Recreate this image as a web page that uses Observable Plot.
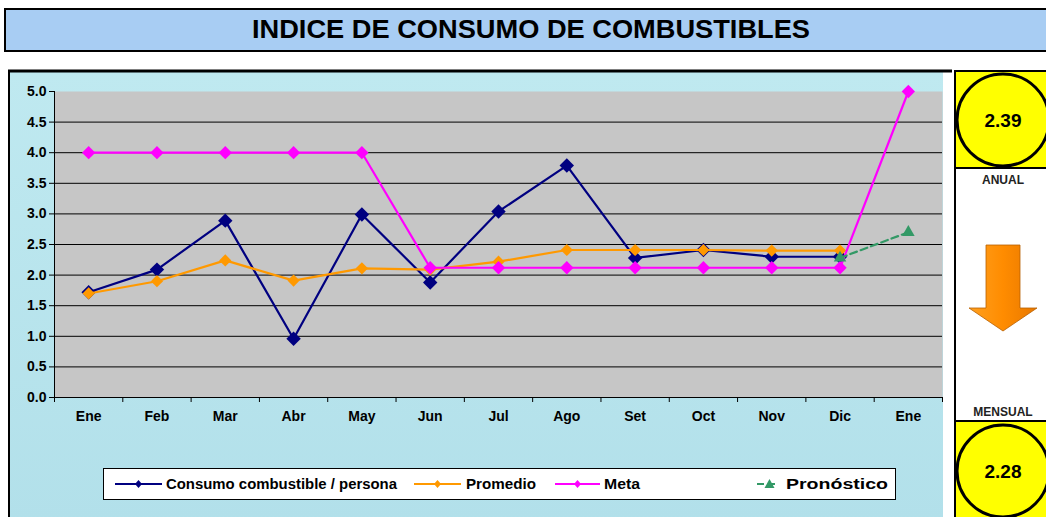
<!DOCTYPE html>
<html>
<head>
<meta charset="utf-8">
<script src="https://cdn.jsdelivr.net/npm/d3@7"></script>
<script src="https://cdn.jsdelivr.net/npm/@observablehq/plot@0.6"></script>
<style>
  html, body { margin: 0; padding: 0; background: #ffffff; }
  #page { position: relative; width: 1046px; height: 517px; overflow: hidden; background: #ffffff; font-family: "Liberation Sans", Arial, sans-serif; }
  #deco, #overlay { position: absolute; left: 0; top: 0; }
  #chart { position: absolute; left: 8px; top: 70px; }
</style>
</head>
<body>
<div id="page">
  <svg id="deco" width="1046" height="517"></svg>
  <div id="chart"></div>
  <svg id="overlay" width="1046" height="517"></svg>
</div>
<script>
// ---------- data ----------
const months = ["Ene","Feb","Mar","Abr","May","Jun","Jul","Ago","Set","Oct","Nov","Dic","Ene"];
const consumo = [1.72, 2.09, 2.89, 0.96, 2.99, 1.88, 3.04, 3.79, 2.28, 2.41, 2.30, 2.30, null];
const promedio = [1.70, 1.90, 2.24, 1.91, 2.11, 2.09, 2.22, 2.41, 2.41, 2.41, 2.40, 2.40, null];
const meta = [4.0, 4.0, 4.0, 4.0, 4.0, 2.12, 2.12, 2.12, 2.12, 2.12, 2.12, 2.12, 5.0];
const pronostico = [null, null, null, null, null, null, null, null, null, null, null, 2.28, 2.70];
const yTicks = [0.0, 0.5, 1.0, 1.5, 2.0, 2.5, 3.0, 3.5, 4.0, 4.5, 5.0];
const seriesNames = ["Consumo combustible / persona", "Promedio", "Meta", "Pronóstico"];
const seriesColors = ["#000080", "#ff9900", "#ff00ff", "#339966"];
const title = "INDICE DE CONSUMO DE COMBUSTIBLES";
const anualValue = "2.39";
const mensualValue = "2.28";
const anualLabel = "ANUAL";
const mensualLabel = "MENSUAL";

const toRows = arr => arr.map((v, i) => ({i, v})).filter(d => d.v != null);
const rowsC = toRows(consumo), rowsP = toRows(promedio), rowsM = toRows(meta), rowsF = toRows(pronostico);
const idx = months.map((_, i) => i);
const bounds = months.map((_, i) => i - 0.5).concat([months.length - 0.5]);

// ---------- plot ----------
const chart = Plot.plot({
  width: 935,
  height: 447,
  marginLeft: 46,
  marginRight: 1,
  marginTop: 21,
  marginBottom: 120,
  style: {background: "transparent", fontFamily: "'Liberation Sans', Arial, sans-serif", fontSize: "14px", fontWeight: "bold", color: "#000"},
  x: {type: "linear", domain: [-0.5, months.length - 0.5]},
  y: {domain: [0, 5]},
  marks: [
    Plot.frame({fill: "#c6c6c6", stroke: "none"}),
    Plot.ruleY(yTicks.filter(d => d > 0 && d < 5), {stroke: "#000", strokeWidth: 1}),
    Plot.ruleY([0], {stroke: "#000", strokeWidth: 1}),
    Plot.ruleX([-0.5], {stroke: "#000", strokeWidth: 1}),
    Plot.axisY({ticks: yTicks, tickFormat: d => d.toFixed(1), tickSize: 5, tickPadding: 3, label: null, fontWeight: "bold", fontSize: 14}),
    Plot.axisX({ticks: bounds, tickFormat: () => "", tickSize: 5, label: null}),
    Plot.axisX({ticks: idx, tickFormat: i => months[i], tickSize: 0, tickPadding: 14, label: null, fontWeight: "bold", fontSize: 14}),
    Plot.line(rowsC, {x: "i", y: "v", stroke: seriesColors[0], strokeWidth: 2.2}),
    Plot.dot(rowsC, {x: "i", y: "v", symbol: "diamond2", fill: seriesColors[0], r: 6.5}),
    Plot.line(rowsP, {x: "i", y: "v", stroke: seriesColors[1], strokeWidth: 2.2}),
    Plot.dot(rowsP, {x: "i", y: "v", symbol: "diamond2", fill: seriesColors[1], r: 5.5}),
    Plot.line(rowsM, {x: "i", y: "v", stroke: seriesColors[2], strokeWidth: 2.2}),
    Plot.dot(rowsM, {x: "i", y: "v", symbol: "diamond2", fill: seriesColors[2], r: 6}),
    Plot.line(rowsF, {x: "i", y: "v", stroke: seriesColors[3], strokeWidth: 2.2, strokeDasharray: "7,4"}),
    Plot.dot(rowsF, {x: "i", y: "v", symbol: "triangle2", fill: seriesColors[3], r: 6})
  ]
});
document.getElementById("chart").appendChild(chart);

// ---------- decorations ----------
const NS = "http://www.w3.org/2000/svg";
function el(parent, tag, attrs, text) {
  const e = document.createElementNS(NS, tag);
  for (const k in attrs) e.setAttribute(k, attrs[k]);
  if (text != null) e.textContent = text;
  parent.appendChild(e);
  return e;
}
const deco = document.getElementById("deco");
const defs = el(deco, "defs", {});
const grad = el(defs, "linearGradient", {id: "arrowGrad", x1: "0", y1: "0", x2: "1", y2: "0"});
el(grad, "stop", {offset: "0", "stop-color": "#ffa020"});
el(grad, "stop", {offset: "0.5", "stop-color": "#ff8c00"});
el(grad, "stop", {offset: "1", "stop-color": "#e87800"});
const bg = el(defs, "linearGradient", {id: "bgGrad", x1: "0", y1: "0", x2: "0", y2: "1"});
el(bg, "stop", {offset: "0", "stop-color": "#bfe9f0"});
el(bg, "stop", {offset: "1", "stop-color": "#b2e0ea"});

// title box
el(deco, "rect", {x: 5, y: 9, width: 1050, height: 42, fill: "#a8cdf3", stroke: "#000", "stroke-width": 2});
el(deco, "text", {x: 531, y: 38, "text-anchor": "middle", "font-size": 25, "font-weight": "bold", fill: "#000", textLength: 558, lengthAdjust: "spacingAndGlyphs"}, title);

// chart frame
el(deco, "rect", {x: 9, y: 71, width: 934, height: 450, fill: "url(#bgGrad)"});
el(deco, "line", {x1: 8, y1: 71, x2: 952, y2: 71, stroke: "#000", "stroke-width": 3});
el(deco, "line", {x1: 9, y1: 70, x2: 9, y2: 517, stroke: "#000", "stroke-width": 2});

// right panel
el(deco, "rect", {x: 955, y: 71, width: 100, height: 460, fill: "#ffffff", stroke: "#000", "stroke-width": 2});
el(deco, "rect", {x: 955, y: 71, width: 100, height: 97, fill: "#ffff00", stroke: "#000", "stroke-width": 2});
el(deco, "circle", {cx: 1003, cy: 120, r: 46, fill: "#ffff00", stroke: "#000", "stroke-width": 3});
el(deco, "text", {x: 1003, y: 127, "text-anchor": "middle", "font-size": 19, "font-weight": "bold", fill: "#000"}, anualValue);
el(deco, "text", {x: 1003, y: 184, "text-anchor": "middle", "font-size": 12, "font-weight": "bold", fill: "#222"}, anualLabel);
el(deco, "polygon", {points: "986,245 1020,245 1020,308 1037,308 1003,331 969,308 986,308", fill: "url(#arrowGrad)", stroke: "#b86000", "stroke-width": 0.8});
el(deco, "text", {x: 1003, y: 416, "text-anchor": "middle", "font-size": 12, "font-weight": "bold", fill: "#222"}, mensualLabel);
el(deco, "rect", {x: 955, y: 421, width: 100, height: 110, fill: "#ffff00", stroke: "#000", "stroke-width": 2});
el(deco, "circle", {cx: 1003, cy: 471, r: 46, fill: "#ffff00", stroke: "#000", "stroke-width": 3});
el(deco, "text", {x: 1003, y: 478, "text-anchor": "middle", "font-size": 19, "font-weight": "bold", fill: "#000"}, mensualValue);

// legend (overlay)
const ov = document.getElementById("overlay");
el(ov, "rect", {x: 103.5, y: 468.5, width: 792, height: 31, fill: "#ffffff", stroke: "#000", "stroke-width": 1});
const legendItems = [
  {x0: 115, x1: 162, tx: 166, tw: 231, sym: "diamond"},
  {x0: 414, x1: 461, tx: 466, tw: 70, sym: "diamond"},
  {x0: 555, x1: 600, tx: 604, tw: 36, sym: "diamond"},
  {x0: 757, x1: 778, tx: 786, tw: 102, sym: "triangle"}
];
legendItems.forEach((it, k) => {
  const c = seriesColors[k];
  const cy = 484;
  const lineAttrs = {x1: it.x0, y1: cy, x2: it.x1, y2: cy, stroke: c, "stroke-width": 2};
  if (it.sym === "triangle") lineAttrs["stroke-dasharray"] = "7,4";
  el(ov, "line", lineAttrs);
  const mx = (it.x0 + it.x1) / 2 + (it.sym === "triangle" ? 2 : 0);
  if (it.sym === "diamond") {
    el(ov, "polygon", {points: `${mx},${cy-4} ${mx+3.5},${cy} ${mx},${cy+4} ${mx-3.5},${cy}`, fill: c});
  } else {
    el(ov, "polygon", {points: `${mx},${cy-5} ${mx+5},${cy+4} ${mx-5},${cy+4}`, fill: c});
  }
  el(ov, "text", {x: it.tx, y: cy + 5, "font-size": 14, "font-weight": "bold", fill: "#000", textLength: it.tw, lengthAdjust: "spacingAndGlyphs"}, seriesNames[k]);
});
</script>
</body>
</html>
